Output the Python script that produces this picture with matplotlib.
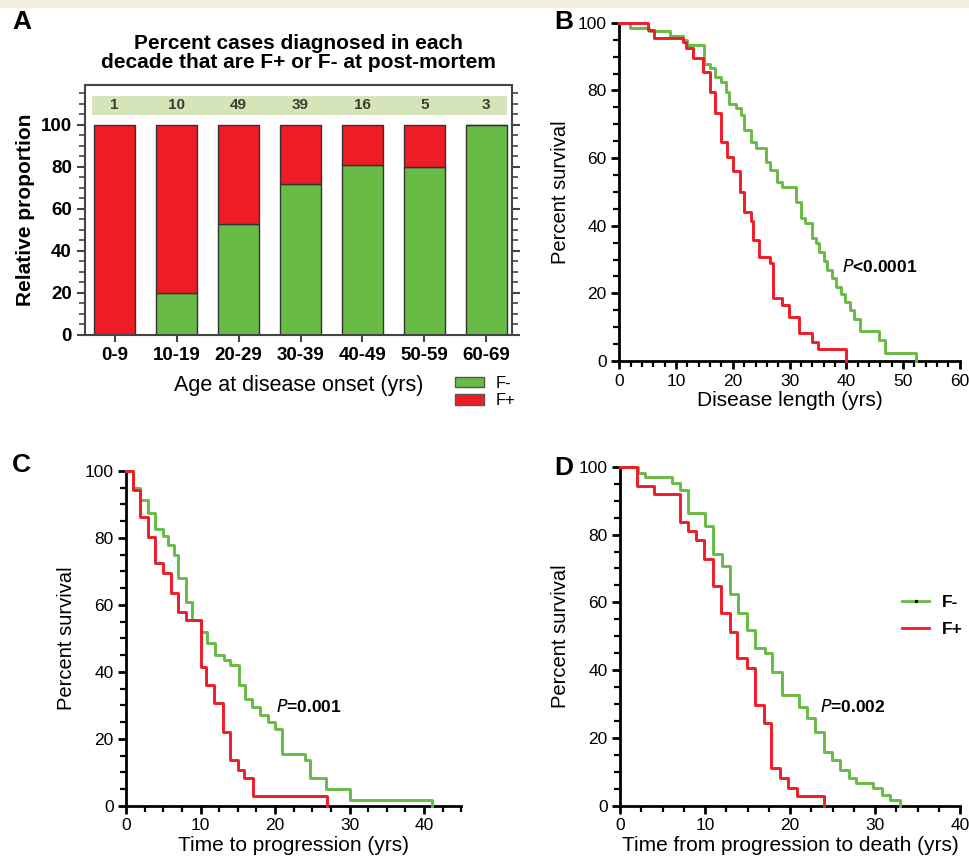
import matplotlib
matplotlib.use("Agg")
import matplotlib.pyplot as plt
from matplotlib.ticker import MultipleLocator
from matplotlib.patches import Patch, Rectangle
from matplotlib.lines import Line2D

plt.rcParams['font.family'] = ['Liberation Sans', 'DejaVu Sans']

GREEN = '#68bb45'
RED = '#ee1c25'

# Panel A: proportion of F- / F+ per decade of onset
decades = ['0-9', '10-19', '20-29', '30-39', '40-49', '50-59', '60-69']
n_cases = [1, 10, 49, 39, 16, 5, 3]
pct_fneg = [0, 20, 53, 72, 81, 80, 100]
pct_fpos = [100 - v for v in pct_fneg]

# Panel B: disease length (yrs), Kaplan-Meier steps
b_neg_t = [1.9, 5.2, 8.9, 11.2, 12.0, 15.0, 15.9, 16.8, 17.9, 18.8, 19.4, 20.6, 21.5, 22.0,
           23.2, 24.1, 25.8, 26.6, 27.8, 28.7, 31.1, 32.0, 32.8, 34.0, 34.6, 35.2, 36.0,
           36.6, 37.4, 38.2, 39.0, 39.8, 40.6, 41.4, 42.4, 45.7, 46.8, 52.2]
b_neg_s = [98.5, 97.5, 96.2, 94.9, 93.4, 87.7, 86.5, 84.0, 82.5, 79.6, 76.1, 74.7, 72.7, 68.3,
           64.8, 62.9, 58.9, 56.4, 53.0, 51.5, 47.0, 42.2, 40.7, 36.5, 34.8, 32.3, 29.5,
           27.0, 24.5, 22.0, 19.8, 17.5, 15.0, 12.5, 9.0, 6.2, 2.5, 0]
b_pos_t = [5.0, 6.1, 11.2, 11.7, 13.0, 14.7, 15.9, 16.8, 17.9, 18.9, 20.1, 21.2, 22.0, 23.2,
           23.6, 24.6, 26.5, 27.1, 28.7, 29.9, 31.6, 34.0, 35.0, 40.0]
b_pos_s = [98.0, 95.5, 94.2, 92.4, 89.6, 85.5, 79.6, 73.2, 64.8, 60.4, 56.2, 50.0, 44.0, 41.5,
           35.8, 30.8, 28.9, 18.5, 16.5, 13.0, 8.2, 5.7, 3.5, 0]

# Panel C: time to progression (yrs)
c_neg_t = [1.0, 1.9, 2.9, 3.9, 5.0, 5.7, 6.4, 7.0, 8.0, 8.8, 10.0, 10.9, 11.9, 13.1, 14.0,
           15.1, 16.0, 16.9, 18.0, 19.0, 20.0, 21.0, 24.0, 24.7, 26.9, 30.0, 41.0]
c_neg_s = [95.0, 91.3, 87.6, 82.6, 80.5, 78.0, 75.0, 68.0, 61.0, 55.6, 52.0, 48.5, 45.0, 43.5,
           42.0, 36.0, 32.0, 29.5, 27.0, 25.0, 23.0, 15.6, 13.6, 8.2, 5.0, 1.6, 0]
c_pos_t = [1.0, 1.9, 2.9, 3.85, 4.9, 6.0, 7.0, 8.0, 10.0, 10.8, 11.8, 13.0, 14.0, 15.0, 15.9,
           17.0, 27.0]
c_pos_s = [94.4, 86.3, 80.4, 72.4, 69.4, 63.7, 58.0, 55.6, 41.5, 36.0, 30.6, 22.1, 13.8, 10.7,
           8.2, 2.8, 0]

# Panel D: time from progression to death (yrs)
d_neg_t = [2.1, 2.9, 6.1, 7.05, 8.0, 10.0, 10.9, 12.0, 12.9, 13.9, 14.9, 15.9, 17.0, 17.9,
           19.0, 21.0, 22.0, 22.9, 24.0, 24.9, 25.9, 26.9, 27.8, 29.8, 30.8, 31.8, 32.9]
d_neg_s = [98.2, 97.0, 95.3, 93.1, 86.3, 82.6, 74.2, 70.8, 62.6, 56.9, 51.9, 46.5, 45.1, 39.6,
           32.7, 29.3, 25.8, 21.9, 16.0, 13.6, 10.6, 8.2, 6.7, 5.2, 3.2, 1.8, 0]
d_pos_t = [2.0, 4.0, 7.0, 8.0, 8.9, 9.9, 10.9, 11.9, 12.9, 13.8, 14.9, 15.9, 16.9, 17.8, 18.8,
           19.8, 20.8, 24.0]
d_pos_s = [94.3, 91.9, 83.8, 81.0, 78.4, 72.8, 64.9, 56.9, 51.4, 43.7, 40.6, 29.8, 24.4, 11.1,
           8.2, 5.2, 2.8, 0]


def km_axes(ax, xmax, xmajor, xminor, xlabel):
    ax.set_xlim(0, xmax)
    ax.set_ylim(0, 100)
    for s in ['top', 'right']:
        ax.spines[s].set_visible(False)
    for s in ['left', 'bottom']:
        ax.spines[s].set_linewidth(2.0)
    ax.xaxis.set_major_locator(MultipleLocator(xmajor))
    ax.xaxis.set_minor_locator(MultipleLocator(xminor))
    ax.yaxis.set_major_locator(MultipleLocator(20))
    ax.yaxis.set_minor_locator(MultipleLocator(5))
    ax.tick_params(which='major', length=6, width=2, labelsize=12.5, pad=3)
    ax.tick_params(which='minor', length=4, width=1.6)
    ax.set_ylabel('Percent survival', fontsize=14.5, labelpad=6)
    ax.set_xlabel(xlabel, fontsize=15, labelpad=2)


def km_line(ax, t, s, color):
    ax.step([0] + t, [100] + s, where='post', color=color, lw=2.1, clip_on=False, zorder=3)


fig = plt.figure(figsize=(9.7, 8.66), dpi=100)
fig.patches.append(Rectangle((0, 1 - 7 / 866), 1, 7 / 866, transform=fig.transFigure,
                             color='#f4f0e1', zorder=0))

# ---- A ----
axA = fig.add_axes([0.0876, 0.6132, 0.440, 0.2887])
pos = list(range(len(decades)))
w = 0.66
axA.bar(pos, pct_fneg, w, color=GREEN, edgecolor='#333333', lw=1.0, zorder=2)
axA.bar(pos, pct_fpos, w, bottom=pct_fneg, color=RED, edgecolor='#333333', lw=1.0, zorder=2)
axA.add_patch(Rectangle((pos[0] - w / 2 - 0.03, 104.8), pos[-1] - pos[0] + w + 0.03, 9.0,
                        color='#d5e5b9', lw=0, zorder=1))
for p, n in zip(pos, n_cases):
    axA.text(p, 109.3, str(n), ha='center', va='center', fontsize=11, fontweight='bold',
             color='#3c3c30')
axA.set_xlim(-0.48, 6.41)
axA.set_ylim(0, 119)
axA.set_xticks(pos)
axA.set_xticklabels(decades)
axA.yaxis.set_major_locator(MultipleLocator(20))
axA.yaxis.set_minor_locator(MultipleLocator(5))
axA.set_yticks([0, 20, 40, 60, 80, 100])
for s in axA.spines.values():
    s.set_linewidth(1.5)
    s.set_color('#444444')
axA.tick_params(axis='y', which='both', right=True, color='#444444')
axA.tick_params(axis='y', which='major', length=6, width=1.5)
axA.tick_params(axis='y', which='minor', length=4, width=1.2)
axA.tick_params(axis='x', length=5, width=1.5, color='#444444')
for lab in axA.get_xticklabels() + axA.get_yticklabels():
    lab.set_fontsize(13.5)
    lab.set_fontweight('bold')
axA.set_ylabel('Relative proportion', fontsize=15, fontweight='bold', labelpad=4)
axA.set_xlabel('Age at disease onset (yrs)', fontsize=15.5, labelpad=6)
axA.xaxis.set_label_coords(0.5, -0.16)
axA.set_title('Percent cases diagnosed in each\ndecade that are F+ or F- at post-mortem',
              fontsize=15, fontweight='bold', pad=12, linespacing=1.0)
axA.legend(handles=[Patch(facecolor=GREEN, edgecolor='#555555', label='F-'),
                    Patch(facecolor=RED, edgecolor='#555555', label='F+')],
           loc='upper left', bbox_to_anchor=(0.848, -0.13), frameon=False, fontsize=12,
           handlelength=1.7, handleheight=0.6, labelspacing=0.15, handletextpad=0.7,
           borderpad=0)

# ---- B ----
axB = fig.add_axes([0.6385, 0.5831, 0.351, 0.3906])
km_axes(axB, 60, 10, 2, 'Disease length (yrs)')
km_line(axB, b_neg_t, b_neg_s, GREEN)
km_line(axB, b_pos_t, b_pos_s, RED)
axB.text(39.2, 27.9, r'$\bf{\it{P}}$<0.0001', fontsize=12.5, fontweight='bold', va='center')

# ---- C ----
axC = fig.add_axes([0.1299, 0.0696, 0.3457, 0.3865])
km_axes(axC, 45, 10, 2.5, 'Time to progression (yrs)')
km_line(axC, c_neg_t, c_neg_s, GREEN)
km_line(axC, c_pos_t, c_pos_s, RED)
axC.text(20.1, 29.6, r'$\bf{\it{P}}$=0.001', fontsize=12.5, fontweight='bold', va='center')

# ---- D ----
axD = fig.add_axes([0.6392, 0.0693, 0.3505, 0.3918])
km_axes(axD, 40, 10, 2.5, 'Time from progression to death (yrs)')
km_line(axD, d_neg_t, d_neg_s, GREEN)
km_line(axD, d_pos_t, d_pos_s, RED)
axD.text(23.5, 29.3, r'$\bf{\it{P}}$=0.002', fontsize=12.5, fontweight='bold', va='center')
axD.legend(handles=[Line2D([], [], color=GREEN, lw=2, marker='.', markersize=3,
                           markerfacecolor='k', markeredgecolor='k', label='F-'),
                    Line2D([], [], color=RED, lw=2, label='F+')],
           loc='center left', bbox_to_anchor=(0.805, 0.56), frameon=False,
           prop={'size': 12.5, 'weight': 'bold'}, borderpad=0,
           handlelength=1.55, labelspacing=0.65, handletextpad=0.7)

# panel letters
for letter, x, y in [('A', 12, 22), ('B', 554, 22), ('C', 12, 465), ('D', 554, 468)]:
    fig.text(x / 970, 1 - y / 866, letter, fontsize=19, fontweight='bold', va='center')

fig.savefig('out.png', dpi=100)
